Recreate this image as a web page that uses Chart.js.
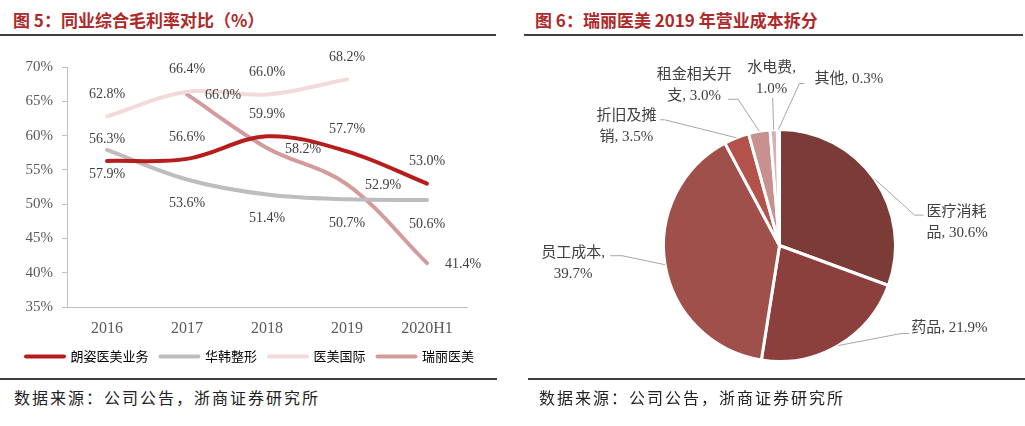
<!DOCTYPE html>
<html>
<head>
<meta charset="utf-8">
<script src="https://cdn.jsdelivr.net/npm/chart.js@4.4.0/dist/chart.umd.min.js"></script>
<style>
	body { margin: 0; width: 1025px; height: 426px; background: #fff; position: relative; overflow: hidden; font-family: "Noto Sans CJK SC", sans-serif; }
	.title { position: absolute; top: 8px; font-size: 17px; font-weight: bold; color: #ae2a2a; white-space: nowrap; line-height: 24px; }
	.rule { position: absolute; height: 2px; background: #404040; }
	.src { position: absolute; top: 385px; font-size: 16px; letter-spacing: 2px; color: #222; white-space: nowrap; line-height: 24px; }
	.box { position: absolute; }
</style>
</head>
<body>
<div class="title" style="left:13px">图 5：同业综合毛利率对比（%）</div>
<div class="rule" style="left:0;width:496px;top:34px"></div>
<div class="title" style="left:535px">图 6：瑞丽医美 2019 年营业成本拆分</div>
<div class="rule" style="left:524px;width:499px;top:34px"></div>

<div class="box" style="left:0;top:40px;width:500px;height:333px"><canvas id="line-margin"></canvas></div>
<div class="box" style="left:520px;top:45px;width:500px;height:335px"><canvas id="pie-cost"></canvas></div>

<div class="rule" style="left:0;width:497px;top:378px"></div>
<div class="rule" style="left:528px;width:497px;top:378px"></div>
<div class="src" style="left:14px">数据来源：公司公告，浙商证券研究所</div>
<div class="src" style="left:539px">数据来源：公司公告，浙商证券研究所</div>

<script>
// 图5 数据
const years = ['2016', '2017', '2018', '2019', '2020H1'];
const seriesNames = ['朗姿医美业务', '华韩整形', '医美国际', '瑞丽医美'];
const langzi = [56.3, 56.6, 59.9, 57.7, 53.0];
const huahan = [57.9, 53.6, 51.4, 50.7, 50.6];
const yimei = [62.8, 66.4, 66.0, 68.2, null];
const ruili = [null, 66.0, 58.2, 52.9, 41.4];
const yMin = 35, yMax = 70, yStep = 5;

// 图6 数据
const costLabels = ['医疗消耗品', '药品', '员工成本', '折旧及摊销', '租金相关开支', '水电费', '其他'];
const costShares = [30.6, 21.9, 39.7, 3.5, 3.0, 1.0, 0.3];

const serif = '"Liberation Serif", "Noto Sans CJK SC", serif';

// 数据标签
const pointLabels = {
	id: 'pointLabels',
	afterDatasetsDraw(chart) {
		const ctx = chart.ctx;
		ctx.save();
		ctx.font = '14px ' + serif;
		ctx.fillStyle = '#404040';
		ctx.textAlign = 'center';
		ctx.textBaseline = 'middle';
		chart.data.datasets.forEach((ds, i) => {
			const meta = chart.getDatasetMeta(i);
			meta.data.forEach((pt, j) => {
				const v = ds.data[j];
				if (v == null) return;
				ctx.fillText(v.toFixed(1) + '%', pt.x + ds.labelOffset[0], pt.y + ds.labelOffset[1]);
			});
		});
		ctx.restore();
	}
};

const lineColors = ['#b81d1d', '#bdbdbd', '#f2dada', '#d39b9b'];
const labelOffsets = [[0, -22], [0, 24], [0, -22], [36, 1]];

const makeSet = (i, data) => ({
	label: seriesNames[i],
	data: data,
	borderColor: lineColors[i],
	borderWidth: 4,
	borderCapStyle: 'round',
	tension: 0.35,
	pointRadius: 0,
	pointHoverRadius: 0,
	labelOffset: labelOffsets[i]
});

new Chart(document.getElementById('line-margin'), {
	type: 'line',
	data: {
		labels: years,
		datasets: [makeSet(0, langzi), makeSet(1, huahan), makeSet(2, yimei), makeSet(3, ruili)]
	},
	options: {
		responsive: true,
		maintainAspectRatio: false,
		animation: false,
		layout: { padding: { left: 0, right: 0, top: 27, bottom: 0 } },
		scales: {
			x: {
				offset: true,
				grid: { display: false, drawTicks: false },
				border: { color: '#bfbfbf', width: 1 },
				ticks: { font: { family: serif, size: 16 }, color: '#595959', padding: 12 },
				afterFit: (s) => { s.height = 31; }
			},
			y: {
				min: yMin,
				max: yMax,
				grid: { drawOnChartArea: false, tickLength: 5, color: '#bfbfbf' },
				border: { color: '#bfbfbf', width: 1 },
				ticks: {
					stepSize: yStep,
					padding: 9,
					font: { family: serif, size: 15 },
					color: '#595959',
					callback: (v) => v + '%'
				},
				afterFit: (s) => { s.width = 67; }
			},
			// 右侧留白
			yPad: {
				position: 'right',
				display: true,
				grid: { display: false, drawTicks: false },
				border: { display: false },
				ticks: { display: false },
				afterFit: (s) => { s.width = 33; }
			}
		},
		plugins: {
			tooltip: { enabled: false },
			legend: {
				position: 'bottom',
				labels: {
					usePointStyle: true,
					pointStyleWidth: 38,
					padding: 12,
					color: '#404040',
					font: { family: '"Noto Sans CJK SC"', size: 13 },
					generateLabels: (chart) => chart.data.datasets.map((ds, i) => ({
						text: ds.label,
						strokeStyle: ds.borderColor,
						fillStyle: ds.borderColor,
						lineWidth: 4,
						lineCap: 'round',
						pointStyle: 'line',
						hidden: false,
						datasetIndex: i
					}))
				}
			}
		}
	},
	plugins: [pointLabels]
});

// 饼图标签 + 引导线
const pieLabelLayout = [
	{ split: 4, elbow: [40, 36], tail: 9, text: [3, -3], align: 'left' },
	{ split: 0, elbow: [63, -12], tail: 8, text: [2, -5], align: 'left' },
	{ split: 5, elbow: [-43, -9], tail: -12, text: [-37, -3], align: 'center' },
	{ split: 4, elbow: [-72, -18], tail: -4, text: [-34, -4], align: 'center' },
	{ split: 5, elbow: [-21, -32], tail: -10, text: [-34, -24], align: 'center' },
	{ split: 4, elbow: [-1, -32], tail: 0, text: [-1, -30], align: 'center' },
	{ split: 0, elbow: [21, -46], tail: 5, text: [10, -4], align: 'left' }
];

const pieLabels = {
	id: 'pieLabels',
	afterDatasetsDraw(chart) {
		const ctx = chart.ctx;
		const meta = chart.getDatasetMeta(0);
		ctx.save();
		ctx.font = '15px ' + serif;
		ctx.fillStyle = '#404040';
		ctx.strokeStyle = '#a6a6a6';
		ctx.lineWidth = 1;
		ctx.textBaseline = 'middle';
		meta.data.forEach((arc, i) => {
			const o = pieLabelLayout[i];
			const mid = (arc.startAngle + arc.endAngle) / 2;
			const sx = arc.x + Math.cos(mid) * arc.outerRadius;
			const sy = arc.y + Math.sin(mid) * arc.outerRadius;
			const ex = sx + o.elbow[0], ey = sy + o.elbow[1];
			ctx.beginPath();
			ctx.moveTo(sx, sy);
			ctx.lineTo(ex, ey);
			ctx.lineTo(ex + o.tail, ey);
			ctx.stroke();

			const full = chart.data.labels[i] + ', ' + costShares[i].toFixed(1) + '%';
			let lines = [full];
			if (o.split) lines = [full.slice(0, o.split), full.slice(o.split).trim()];
			ctx.textAlign = o.align;
			lines.forEach((t, k) => {
				ctx.fillText(t, ex + o.tail + o.text[0], ey + o.text[1] + k * 21);
			});
		});
		ctx.restore();
	}
};

new Chart(document.getElementById('pie-cost'), {
	type: 'pie',
	data: {
		labels: costLabels,
		datasets: [{
			data: costShares,
			backgroundColor: ['#7b3b36', '#8c403d', '#a0504a', '#b2524b', '#c89190', '#d9b0b0', '#e8caca'],
			borderColor: '#ffffff',
			borderWidth: 3
		}]
	},
	options: {
		responsive: true,
		maintainAspectRatio: false,
		animation: false,
		layout: { padding: { left: 142, right: 123, top: 83, bottom: 17 } },
		plugins: {
			legend: { display: false },
			tooltip: { enabled: false }
		}
	},
	plugins: [pieLabels]
});
</script>
</body>
</html>
